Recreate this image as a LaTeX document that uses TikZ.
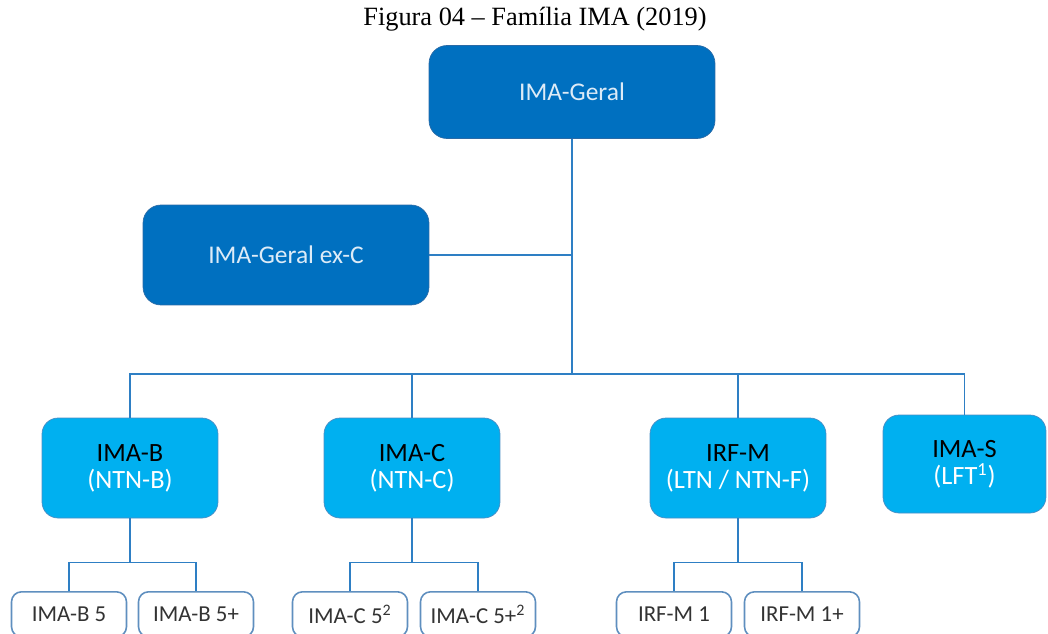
\documentclass[tikz,border=0pt]{standalone}
\usepackage{fontspec}
\setmainfont{Liberation Serif}
\newfontfamily\calibri{Carlito}
\usepackage{tikz}
\usepackage{xcolor}
\definecolor{imadark}{HTML}{0070C0}
\definecolor{imadarkline}{HTML}{2A6AA6}
\definecolor{imalight}{HTML}{00B0F0}
\definecolor{imalightline}{HTML}{4A8DC4}
\definecolor{imatext}{HTML}{DDEBF7}
\definecolor{imalink}{HTML}{2E7FC4}
\definecolor{leafline}{HTML}{5F8FBF}

\begin{document}
\begin{tikzpicture}[x=0.02cm, y=-0.02cm,
  topbox/.style={rectangle, rounded corners=0.36cm, fill=imadark, draw=imadarkline,
    minimum width=5.72cm, font=\calibri\fontsize{14.5}{16}\selectfont, text=imatext},
  subbox/.style={rectangle, rounded corners=0.32cm, fill=imalight, draw=imalightline,
    minimum width=3.52cm, minimum height=2cm, align=center,
    font=\calibri\fontsize{15}{15.5}\selectfont, text=black},
  leafbox/.style={rectangle, rounded corners=0.2cm, fill=white, draw=leafline, line width=0.9pt,
    minimum width=2.3cm, minimum height=0.9cm, anchor=north,
    font=\calibri\fontsize{13}{15}\selectfont, text=black!80},
  link/.style={draw=imalink, line width=0.95pt}]
\useasboundingbox (0,0) rectangle (1048,633);

\node[font=\fontsize{15}{18}\selectfont] (title) at (535,19) {Figura 04 -- Família IMA (2019)};

% top level
\node[topbox, minimum height=1.86cm] (geral) at (572,92) {IMA-Geral};
\node[topbox, minimum height=2cm] (exc) at (286,255) {IMA-Geral ex-C};

% second level
\node[subbox] (imab) at (130,468) {IMA-B\\\textcolor{white}{(NTN-B)}};
\node[subbox] (imac) at (412,468) {IMA-C\\\textcolor{white}{(NTN-C)}};
\node[subbox] (irfm) at (738,468) {IRF-M\\\textcolor{white}{(LTN / NTN-F)}};
\node[subbox, minimum width=3.26cm, minimum height=1.96cm] (imas) at (964.5,464) {IMA-S\\\textcolor{white}{(LFT\textsuperscript{1})}};

% leaves
\node[leafbox] (imab5) at (69,591) {IMA-B 5};
\node[leafbox] (imab5p) at (196,591) {IMA-B 5+};
\node[leafbox] (imac5) at (350,591) {IMA-C 5\textsuperscript{2}};
\node[leafbox] (imac5p) at (478,591) {IMA-C 5+\textsuperscript{2}};
\node[leafbox] (irfm1) at (674,591) {IRF-M 1};
\node[leafbox] (irfm1p) at (802,591) {IRF-M 1+};

\coordinate (bus) at (572,374);

\draw[link] (geral.south) -- (bus);
\draw[link] (exc.east) -- (exc.east -| geral.south);
\draw[link] (imab.north) |- (bus) -| (imas.north);
\draw[link] (bus -| imac.north) -- (imac.north);
\draw[link] (bus -| irfm.north) -- (irfm.north);

% brackets to the leaves
\foreach \up/\left/\right in {imab/imab5/imab5p, imac/imac5/imac5p, irfm/irfm1/irfm1p} {
  \draw[link] (\up.south) -- ++(0,44) coordinate (\up-mid);
  \draw[link] (\left.north) |- (\up-mid) -| (\right.north);
}
\end{tikzpicture}
\end{document}
